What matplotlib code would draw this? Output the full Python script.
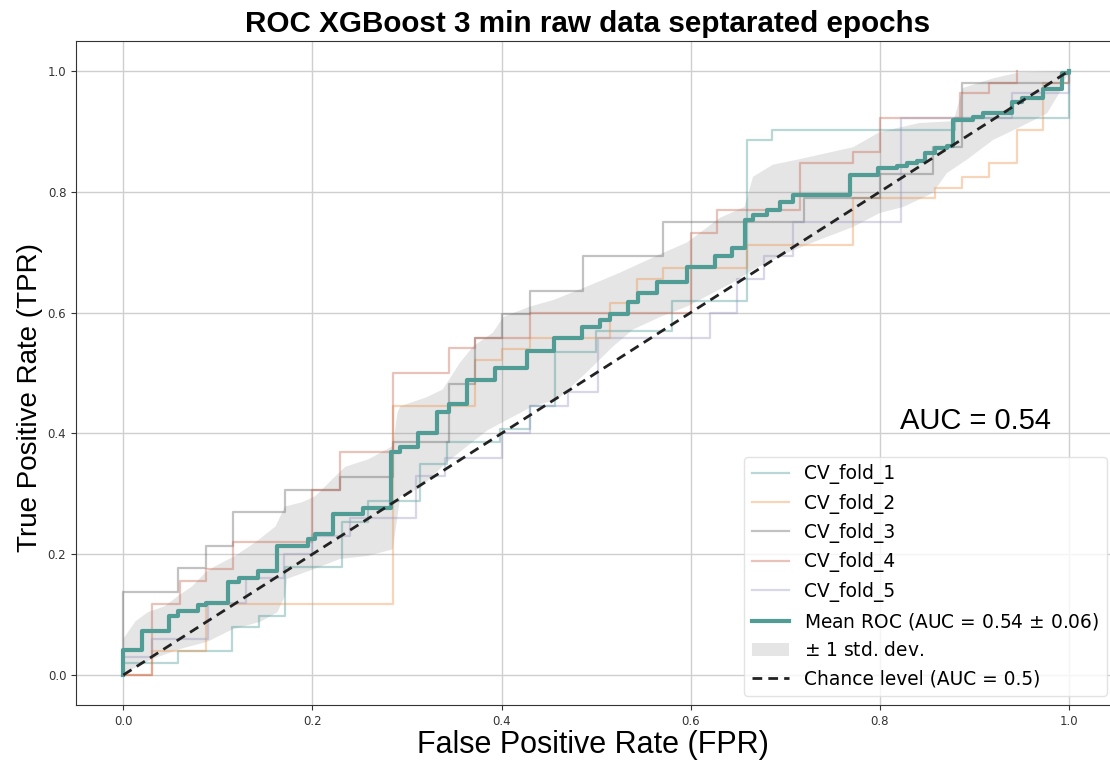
import numpy as np
import matplotlib
matplotlib.use("Agg")
import matplotlib.pyplot as plt

# ROC points per CV fold (corner points, step-post)
fold1_fpr = [0, 0, .058, .115, .143, .171, .231, .259, .314, .342, .398, .43, .457, .50, .58, .66, .686, .88, 1.0]
fold1_tpr = [0, .02, .04, .08, .098, .178, .253, .288, .349, .385, .407, .445, .534, .57, .62, .886, .902, .922, 1.0]

fold2_fpr = [0, .03, .087, .285, .372, .40, .43, .515, .543, .571, .66, .772, .858, .887, .916, .945, .973, 1.0]
fold2_tpr = [0, .04, .117, .445, .522, .539, .558, .616, .655, .674, .712, .79, .807, .825, .848, .902, .98, 1.0]

fold3_fpr = [0, 0, .058, .087, .116, .171, .229, .285, .344, .372, .40, .43, .486, .571, .72, .80, .856, .887, 1.0]
fold3_tpr = [0, .137, .177, .213, .27, .307, .327, .385, .481, .558, .597, .635, .693, .75, .79, .83, .874, .98, 1.0]

fold4_fpr = [0, .03, .06, .087, .116, .20, .229, .285, .344, .372, .43, .60, .628, .716, .772, .80, .885, .916, .945]
fold4_tpr = [0, .117, .155, .175, .22, .307, .369, .50, .542, .558, .60, .732, .77, .848, .866, .922, .964, .98, 1.0]

fold5_fpr = [0, 0, .03, .09, .13, .17, .20, .24, .31, .34, .40, .43, .47, .502, .62, .649, .678, .708, .823, .94, 1.0]
fold5_tpr = [0, .03, .06, .12, .16, .20, .23, .26, .33, .36, .40, .445, .468, .558, .60, .655, .693, .75, .922, .964, 1.0]

mean_fpr = [0, 0, .02, .048, .058, .079, .087, .111, .122, .142, .163, .195, .203, .222, .254, .283, .293,
            .312, .332, .344, .364, .393, .427, .455, .485, .504, .515, .534, .544, .564, .596, .626, .644,
            .658, .666, .681, .694, .708, .769, .798, .818, .829, .839, .848, .858, .871, .877, .899, .909,
            .94, .951, .973, .993, 1.0]
mean_tpr = [0, .041, .073, .098, .106, .116, .12, .154, .16, .172, .213, .225, .233, .266, .277, .369, .377,
            .40, .435, .448, .489, .509, .536, .558, .577, .588, .597, .618, .633, .65, .676, .693, .707,
            .754, .762, .770, .784, .795, .828, .84, .843, .848, .851, .864, .873, .876, .919, .924, .930,
            .949, .955, .970, .997, 1.0]

upper_fpr = [0, .013, .026, .044, .058, .073, .087, .097, .118, .14, .161, .171, .189, .203, .221, .235,
             .259, .285, .29, .293, .321, .338, .356, .37, .391, .402, .43, .455, .49, .525, .571, .596,
             .631, .657, .666, .687, .712, .772, .80, .842, .878, .888, .92, .948, 1.0]
upper_tpr = [.06, .089, .104, .114, .131, .147, .17, .18, .197, .22, .246, .279, .286, .296, .324, .345,
             .357, .379, .435, .445, .46, .473, .517, .544, .567, .593, .61, .621, .643, .666, .699, .716,
             .757, .775, .825, .845, .853, .874, .899, .914, .917, .972, .988, .998, 1.0]

lower_fpr = [0, .01, .03, .06, .089, .116, .145, .163, .171, .173, .201, .229, .258, .285, .293, .314,
             .342, .385, .433, .459, .49, .518, .539, .568, .596, .624, .645, .666, .702, .737, .772, .80,
             .825, .856, .871, .892, .92, .948, .977, .99, 1.0]
lower_tpr = [0, .01, .026, .043, .055, .076, .088, .104, .131, .159, .175, .192, .197, .208, .296, .31,
             .352, .405, .445, .456, .501, .544, .572, .593, .61, .633, .65, .671, .699, .721, .742, .765,
             .775, .798, .831, .853, .886, .907, .93, .964, 1.0]

fold_labels = ["CV_fold_1", "CV_fold_2", "CV_fold_3", "CV_fold_4", "CV_fold_5"]
fold_colors = ["#469691", "#ed9146", "#5f5f5f", "#c65f49", "#9696be"]
mean_auc, std_auc = 0.54, 0.06

fig = plt.figure(figsize=(11.1, 7.64), dpi=100)
ax = fig.add_axes([0.0685, 0.077, 0.937, 0.8695])

folds = [(fold1_fpr, fold1_tpr), (fold2_fpr, fold2_tpr), (fold3_fpr, fold3_tpr),
         (fold4_fpr, fold4_tpr), (fold5_fpr, fold5_tpr)]
for (fx, fy), lab, col in zip(folds, fold_labels, fold_colors):
    ax.plot(fx, fy, drawstyle="steps-post", color=col, alpha=0.38, lw=1.6, label=lab)

ax.plot(mean_fpr, mean_tpr, drawstyle="steps-post", color="#529c96", lw=3,
        label=f"Mean ROC (AUC = {mean_auc:.2f} $\\pm$ {std_auc:.2f})")

# std band as a polygon: upper edge forward, lower edge back
band_x = np.concatenate([upper_fpr, lower_fpr[::-1]])
band_y = np.concatenate([upper_tpr, lower_tpr[::-1]])
ax.fill(band_x, band_y, color="grey", alpha=0.2, lw=0, label="$\\pm$ 1 std. dev.")

ax.plot([0, 1], [0, 1], ls=(0, (3.5, 2.2)), color="#222222", lw=2, label="Chance level (AUC = 0.5)")

ax.set_xlim(-0.05, 1.05)
ax.set_ylim(-0.05, 1.05)
ax.set_xticks(np.arange(0, 1.01, 0.2))
ax.set_yticks(np.arange(0, 1.01, 0.2))
ax.tick_params(labelsize=8.5, labelcolor="#333333", color="#333333")
ax.grid(True, color="#cfcfcf", lw=1)
ax.set_axisbelow(True)
for s in ax.spines.values():
    s.set_color("#333333")

ax.legend(loc="lower right", fontsize=13.4, framealpha=0.8, edgecolor="#dddddd")

ax.text(0.821, 0.42, "AUC = 0.54", fontsize=21, family="Liberation Sans", va="center")

fig.text(0.529, 0.969, "ROC XGBoost 3 min raw data septarated epochs", fontsize=21.3,
         fontweight="bold", family="Liberation Sans", ha="center", va="center")
fig.text(0.534, 0.025, "False Positive Rate (FPR)", fontsize=22, family="Liberation Sans",
         ha="center", va="center")
fig.text(0.027, 0.48, "True Positive Rate (TPR)", fontsize=20, family="Liberation Sans",
         ha="center", va="center", rotation=90)

plt.savefig("out.png", dpi=100)
